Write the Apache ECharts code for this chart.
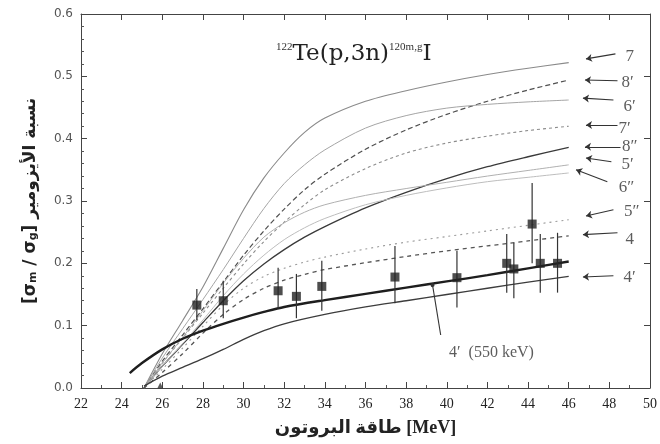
<!DOCTYPE html>
<html><head><meta charset="utf-8">
<script src="https://cdn.jsdelivr.net/npm/echarts@6/dist/echarts.min.js"></script>
<style>html,body{margin:0;padding:0;background:#fff}#c{width:660px;height:444px}</style>
</head><body><div id="c"></div>
<script>
// ---- tick labels ----
const xTickLabels = ['22','24','26','28','30','32','34','36','38','40','42','44','46','48','50'];
const yTickLabels = ['0.0','0.1','0.2','0.3','0.4','0.5','0.6'];

// ---- theoretical curves (energy MeV) ----
const xsCommon = [25.1, 26, 27, 28, 29, 30, 31, 32, 33, 34, 36, 38, 40, 42, 44, 46];
const curve7   = [0, 0.055, 0.108, 0.162, 0.224, 0.286, 0.337, 0.377, 0.41, 0.433, 0.46, 0.477, 0.491, 0.503, 0.513, 0.522];
const curve8p  = [0, 0.043, 0.085, 0.127, 0.17, 0.213, 0.252, 0.287, 0.318, 0.343, 0.383, 0.414, 0.439, 0.46, 0.478, 0.494];
const curve6p  = [0, 0.048, 0.095, 0.142, 0.19, 0.24, 0.288, 0.328, 0.358, 0.382, 0.417, 0.437, 0.449, 0.455, 0.459, 0.462];
const curve7p  = [0, 0.04, 0.08, 0.12, 0.16, 0.199, 0.235, 0.266, 0.294, 0.318, 0.352, 0.377, 0.393, 0.404, 0.413, 0.42];
const curve8pp = [0, 0.035, 0.07, 0.105, 0.14, 0.172, 0.199, 0.222, 0.242, 0.259, 0.289, 0.314, 0.336, 0.355, 0.371, 0.386];
const curve5p  = [0, 0.04, 0.081, 0.124, 0.168, 0.208, 0.242, 0.265, 0.282, 0.294, 0.309, 0.32, 0.33, 0.34, 0.349, 0.358];
const curve6pp = [0, 0.035, 0.071, 0.109, 0.148, 0.183, 0.213, 0.238, 0.257, 0.272, 0.294, 0.309, 0.321, 0.331, 0.338, 0.345];
const curve5pp = [0, 0.03, 0.064, 0.099, 0.133, 0.16, 0.179, 0.192, 0.202, 0.21, 0.223, 0.234, 0.243, 0.252, 0.261, 0.27];
const curve4   = [0, 0.025, 0.055, 0.088, 0.118, 0.142, 0.16, 0.173, 0.182, 0.19, 0.201, 0.211, 0.22, 0.228, 0.236, 0.244];

const xsThick  = [24.4, 25, 26, 27, 28, 29, 30, 31, 32, 34, 36, 38, 40, 42, 44, 46];
const curve4p550 = [0.024, 0.04, 0.062, 0.079, 0.092, 0.103, 0.113, 0.122, 0.13, 0.141, 0.151, 0.161, 0.171, 0.181, 0.192, 0.203];

const xsLow    = [25.1, 26, 27, 28, 29, 30, 31, 32, 34, 36, 38, 40, 42, 44, 46];
const curve4p  = [0.003, 0.019, 0.033, 0.047, 0.062, 0.078, 0.092, 0.103, 0.118, 0.13, 0.14, 0.15, 0.16, 0.17, 0.179];

// ---- experimental points ----
const expE     = [27.7, 29.0, 31.7, 32.6, 33.85, 37.45, 40.5, 42.95, 43.3, 44.2, 44.6, 45.45];
const expRatio = [0.133, 0.14, 0.156, 0.147, 0.163, 0.178, 0.177, 0.2, 0.191, 0.263, 0.2, 0.2];
const expLow   = [0.109, 0.112, 0.128, 0.112, 0.124, 0.136, 0.129, 0.153, 0.144, 0.2, 0.153, 0.153];
const expHigh  = [0.159, 0.172, 0.193, 0.183, 0.204, 0.228, 0.22, 0.247, 0.233, 0.329, 0.247, 0.249];

// ---- curve label annotations ----
const curveLabelText = ['7', '8′', '6′', '7′', '8″', '5′', '6″', '5″', '4', '4′'];
const curveLabelAt   = [[49.0,0.531],[48.9,0.49],[49.0,0.451],[48.75,0.417],[49.0,0.387],[48.9,0.358],[48.85,0.321],[49.1,0.283],[49.0,0.238],[49.0,0.177]];
const arrowFrom      = [[48.3,0.536],[48.4,0.493],[48.2,0.462],[48.4,0.422],[48.55,0.387],[48.1,0.363],[47.9,0.331],[48.2,0.286],[48.4,0.249],[48.2,0.18]];
const arrowTo        = [[46.85,0.528],[46.8,0.494],[46.7,0.465],[46.85,0.422],[46.8,0.387],[46.85,0.369],[46.36,0.35],[46.85,0.276],[46.7,0.246],[46.7,0.178]];

const zip = (xs, ys) => xs.map((x, i) => [x, ys[i]]);

const serif = '"Liberation Serif", "DejaVu Serif", serif';
const chart = echarts.init(document.getElementById('c'), null, {renderer: 'canvas'});

function curve(name, xs, ys, color, width, type) {
  return {
    name, type: 'line', data: zip(xs, ys), showSymbol: false, symbol: 'none',
    smooth: 0.3, silent: true, z: 2,
    lineStyle: {color, width, type}
  };
}

const tickCommon = {inside: true, length: 6, lineStyle: {color: '#444'}};
const option = {
  backgroundColor: '#ffffff',
  animation: false,
  title: {
    text: '{s|122}{m|Te(p,3n)}{s|120m,g}{m|I}',
    left: 271, top: 37,
    textStyle: {
      fontWeight: 'normal',
      rich: {
        s: {fontFamily: serif, fontSize: 11, fontWeight: 'normal', color: '#333', verticalAlign: 'top', lineHeight: 24},
        m: {fontFamily: '"DejaVu Serif", serif', fontSize: 23, fontWeight: 'normal', color: '#222', lineHeight: 24}
      }
    }
  },
  grid: {left: 81, right: 8, top: 14, bottom: 56, containLabel: false},
  xAxis: [{
    type: 'value', min: 22, max: 50, interval: 2, position: 'bottom',
    axisLine: {onZero: false, lineStyle: {color: '#444', width: 1}},
    axisTick: tickCommon,
    minorTick: {show: true, splitNumber: 2, length: 3, lineStyle: {color: '#555'}},
    splitLine: {show: false},
    axisLabel: {
      color: '#222', fontFamily: serif, fontSize: 14, margin: 9,
      formatter: v => xTickLabels[Math.round((v - 22) / 2)]
    },
    name: 'طاقة البروتون [MeV]', nameLocation: 'middle', nameGap: 31,
    nameTextStyle: {fontFamily: '"Liberation Serif", "DejaVu Sans", serif', fontSize: 18, fontWeight: 'bold', color: '#222'}
  }, {
    type: 'value', min: 22, max: 50, interval: 2, position: 'top',
    axisLine: {onZero: false, lineStyle: {color: '#444', width: 1}},
    axisTick: tickCommon, axisLabel: {show: false}, splitLine: {show: false}
  }],
  yAxis: [{
    type: 'value', min: 0, max: 0.6, interval: 0.1, position: 'left',
    axisLine: {onZero: false, lineStyle: {color: '#444', width: 1}},
    axisTick: tickCommon,
    minorTick: {show: true, splitNumber: 5, length: 3, lineStyle: {color: '#555'}},
    splitLine: {show: false},
    axisLabel: {
      color: '#555', fontFamily: '"DejaVu Sans", sans-serif', fontSize: 12, margin: 8,
      formatter: v => yTickLabels[Math.round(v * 10)]
    },
    name: '[σ{sb|m} / σ{sb|g}] نسبة الأيزومير', nameLocation: 'middle', nameGap: 42, nameRotate: 90,
    nameTextStyle: {
      fontFamily: '"DejaVu Sans", sans-serif', fontSize: 17, fontWeight: 'bold', color: '#222',
      rich: {sb: {fontFamily: '"DejaVu Sans", sans-serif', fontSize: 11, fontWeight: 'bold', color: '#222', verticalAlign: 'bottom'}}
    }
  }, {
    type: 'value', min: 0, max: 0.6, interval: 0.1, position: 'right',
    axisLine: {onZero: false, lineStyle: {color: '#444', width: 1}},
    axisTick: tickCommon, axisLabel: {show: false}, splitLine: {show: false}
  }],
  series: [
    curve('7', xsCommon, curve7, '#8a8a8a', 1.1, 'solid'),
    curve('8′', xsCommon, curve8p, '#505050', 1.2, [5, 3]),
    curve('6′', xsCommon, curve6p, '#a5a5a5', 1, 'solid'),
    curve('7′', xsCommon, curve7p, '#8c8c8c', 1.1, [3, 3]),
    curve('8″', xsCommon, curve8pp, '#3a3a3a', 1.3, 'solid'),
    curve('5′', xsCommon, curve5p, '#b0b0b0', 1, 'solid'),
    curve('6″', xsCommon, curve6pp, '#bdbdbd', 1, 'solid'),
    curve('5″', xsCommon, curve5pp, '#9a9a9a', 1.1, [2, 4]),
    curve('4', xsCommon, curve4, '#555555', 1.3, [4, 4]),
    curve('4′ (550 keV)', xsThick, curve4p550, '#1e1e1e', 2.4, 'solid'),
    curve('4′', xsLow, curve4p, '#3c3c3c', 1.3, 'solid'),
    {
      name: 'errors', type: 'custom', z: 4, silent: true,
      data: expE.map((e, i) => [e, expLow[i], expHigh[i]]),
      renderItem: (params, api) => {
        const p1 = api.coord([api.value(0), api.value(1)]);
        const p2 = api.coord([api.value(0), api.value(2)]);
        return {type: 'line', shape: {x1: p1[0], y1: p1[1], x2: p2[0], y2: p2[1]},
                style: {stroke: '#333', lineWidth: 1.2}};
      }
    },
    {
      name: 'exp', type: 'scatter', z: 5, symbol: 'rect', symbolSize: 9,
      data: zip(expE, expRatio), itemStyle: {color: '#222'}
    },
    {
      name: 'threshold', type: 'scatter', z: 5, symbol: 'triangle', symbolSize: 6,
      data: [[25.9, 0.004]], itemStyle: {color: '#333'}
    },
    {
      name: 'arrows', type: 'lines', coordinateSystem: 'cartesian2d', z: 6, silent: true,
      symbol: ['none', 'arrow'], symbolSize: 6,
      lineStyle: {color: '#333', width: 1.1, opacity: 1},
      data: arrowFrom.map((f, i) => ({coords: [f, arrowTo[i]]}))
    },
    {
      name: 'pointer', type: 'lines', coordinateSystem: 'cartesian2d', z: 6, silent: true,
      symbol: ['none', 'circle'], symbolSize: 4,
      lineStyle: {color: '#333', width: 1.1, opacity: 1},
      data: [{coords: [[39.7, 0.085], [39.3, 0.165]]}]
    },
    {
      name: 'labels', type: 'scatter', z: 7, symbolSize: 0, silent: true,
      data: curveLabelAt.map((p, i) => [p[0], p[1], curveLabelText[i]]),
      label: {show: true, position: 'inside', formatter: p => p.data[2],
              fontFamily: serif, fontSize: 17, color: '#333'}
    },
    {
      name: 'label550', type: 'scatter', z: 7, symbolSize: 0, silent: true,
      data: [[42.2, 0.056, '4′  (550 keV)']],
      label: {show: true, position: 'inside', formatter: p => p.data[2],
              fontFamily: serif, fontSize: 16, color: '#333'}
    }
  ]
};
chart.setOption(option);
</script>
</body></html>
